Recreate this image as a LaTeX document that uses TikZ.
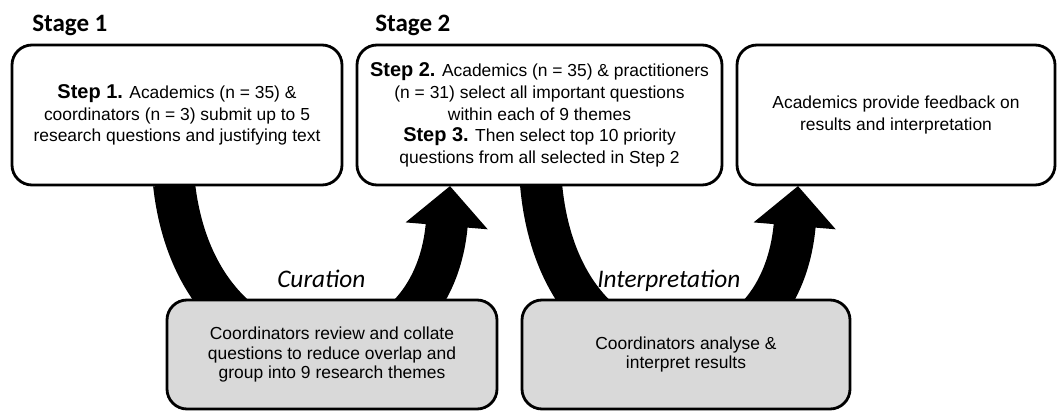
\documentclass[tikz,border=0pt]{standalone}
\usepackage{fontspec}
\setmainfont{Liberation Sans}
\newfontfamily\calibri{Carlito}
\usetikzlibrary{arrows.meta}

\newcommand{\stp}[1]{{\fontsize{14.2}{15}\selectfont\bfseries #1}}

\begin{document}
\begin{tikzpicture}[
    box/.style={draw, line width=2pt, rounded corners=0.5cm, fill=white, align=center, minimum height=3.5cm, font=\fontsize{12.4}{15.4}\selectfont},
    gbox/.style={box, fill=black!15, minimum height=2.725cm, font=\fontsize{12.4}{13.8}\selectfont},
    stage/.style={font=\calibri\bfseries\fontsize{17.8}{20}\selectfont, anchor=base west, inner sep=0pt},
    phase/.style={font=\calibri\itshape\fontsize{18}{20}\selectfont, anchor=base west, inner sep=0pt},
    loopy/.style={line width=1.05cm, -{Triangle[width=2cm,length=1cm]}}
    ]
\useasboundingbox (0,0) rectangle (26.45,10.3);

% thick curved arrows, partly hidden by the boxes
\coordinate (a1) at (4.35,5.7);
\coordinate (b1) at (11.25,5.65);
\coordinate (a2) at (13.525,5.7);
\coordinate (b2) at (19.95,5.65);
\draw[loopy] (a1) .. controls (4.95,0.3) and (10.8,0.3) .. (b1);
\draw[loopy] (a2) .. controls (14.0,0.3) and (19.5,0.3) .. (b2);

\node[stage] (st1) at (0.8,9.5) {Stage 1};
\node[stage] (st2) at (9.375,9.5) {Stage 2};

\node[box, minimum width=8.25cm] (s1) at (4.425,7.425) {\stp{Step 1.} Academics (n = 35) \&\\coordinators (n = 3) submit up to 5\\research questions and justifying text};
\node[box, minimum width=9.125cm] (s2) at (13.4875,7.425) {\stp{Step 2.} Academics (n = 35) \& practitioners\\(n = 31) select all important questions\\within each of 9 themes\\\stp{Step 3.} Then select top 10 priority\\questions from all selected in Step 2};
\node[box, minimum width=7.95cm] (s3) at (22.4,7.425) {Academics provide feedback on\\results and interpretation};

\node[gbox, minimum width=8.25cm] (c1) at (8.3,1.4375) {Coordinators review and collate\\questions to reduce overlap and\\group into 9 research themes};
\node[gbox, minimum width=8.2cm] (c2) at (17.15,1.4375) {Coordinators analyse \&\\interpret results};

\node[phase] (p1) at (6.925,3.125) {Curation};
\node[phase] (p2) at (14.925,3.125) {Interpretation};
\end{tikzpicture}
\end{document}
